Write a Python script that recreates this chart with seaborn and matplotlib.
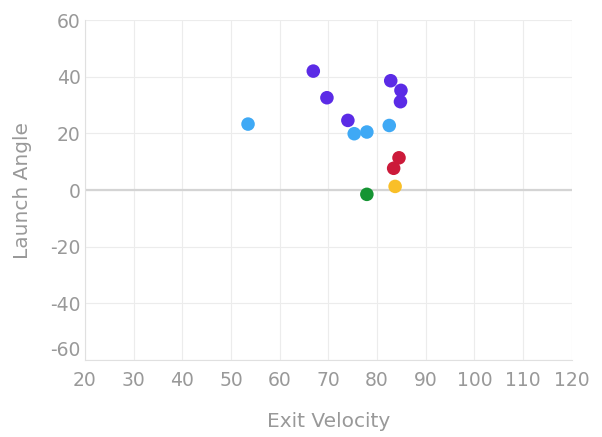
import matplotlib
matplotlib.use("Agg")
import matplotlib.pyplot as plt
import pandas as pd
import seaborn as sns

# batted balls
exit_velocity = [53.5, 66.9, 69.7, 74.0, 75.3, 77.9, 82.5, 82.8, 84.9, 84.8, 84.5, 83.4, 83.7, 77.9]
launch_angle = [23.3, 42.0, 32.6, 24.6, 19.9, 20.5, 22.8, 38.6, 35.2, 31.2, 11.4, 7.7, 1.3, -1.5]
hit_type = ["Line drive", "Fly ball", "Fly ball", "Fly ball", "Line drive", "Line drive",
            "Line drive", "Fly ball", "Fly ball", "Fly ball", "Hard grounder", "Hard grounder",
            "Grounder", "Weak grounder"]

palette = {
    "Line drive": "#3FA9F5",
    "Fly ball": "#5B2BE6",
    "Hard grounder": "#CC1A3A",
    "Grounder": "#F9BF28",
    "Weak grounder": "#159433",
}

df = pd.DataFrame({"ev": exit_velocity, "la": launch_angle, "type": hit_type})

sns.set_style("white")
plt.rcParams["font.family"] = ["DejaVu Sans"]
plt.rcParams["axes.unicode_minus"] = False

fig = plt.figure(figsize=(6.02, 4.37), dpi=100)
ax = fig.add_axes([0.141, 0.176, 0.809, 0.778])

sns.scatterplot(data=df, x="ev", y="la", hue="type", palette=palette,
                s=95, linewidth=0, legend=False, ax=ax, zorder=3)

ax.set_xlim(20, 120)
ax.set_ylim(-60, 60)
ax.set_xticks(range(20, 121, 10))
ax.set_yticks(range(-60, 61, 20))
ax.grid(True, color="#ececec", linewidth=0.8)
ax.axhline(0, color="#d4d4d4", linewidth=1.6, zorder=2)

for side in ["top", "right"]:
    ax.spines[side].set_visible(False)
for side in ["left", "bottom"]:
    ax.spines[side].set_color("#e0e0e0")
    ax.spines[side].set_linewidth(0.8)

ax.tick_params(axis="both", colors="#999999", labelsize=13.5, length=0, pad=3)
ax.tick_params(axis="x", pad=8)
ax.set_xlabel("Exit Velocity", color="#999999", fontsize=14.5, labelpad=16)
ax.set_ylabel("Launch Angle", color="#999999", fontsize=14.5, labelpad=13)

# the lowest y label sits just above the x axis, as in the original
ax.get_yticklabels()[0].set_va("bottom")

fig.savefig("out.png", dpi=100)
